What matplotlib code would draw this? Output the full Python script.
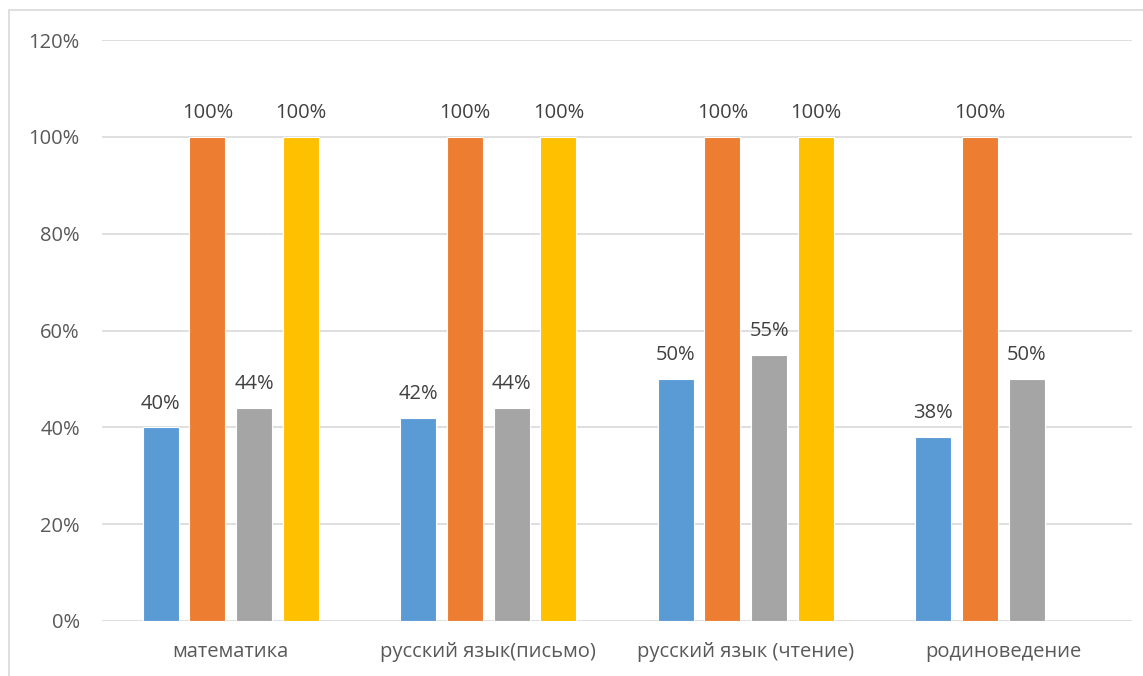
import numpy as np
import matplotlib.pyplot as plt
from matplotlib.patches import Rectangle

plt.rcParams['font.family'] = ['Open Sans', 'DejaVu Sans']

categories = ["математика", "русский язык(письмо)", "русский язык (чтение)", "родиноведение"]
s1 = [0.40, 0.42, 0.50, 0.38]
s2 = [1.00, 1.00, 1.00, 1.00]
s3 = [0.44, 0.44, 0.55, 0.50]
s4 = [1.00, 1.00, 1.00, np.nan]
series = [s1, s2, s3, s4]
colors = ["#5b9bd5", "#ed7d31", "#a5a5a5", "#ffc000"]
yticks = [0, 0.2, 0.4, 0.6, 0.8, 1.0, 1.2]

fig = plt.figure(figsize=(11.43, 6.76), dpi=100)
ax = fig.add_axes([102/1143, 1-621/676, 1030/1143, 581/676])

# рамка диаграммы
fig.patches.append(Rectangle((9/1143, -0.1), 1.2, 1-10/676+0.1, transform=fig.transFigure,
                             fill=False, edgecolor="#d9d9d9", linewidth=1.2))

x = np.arange(len(categories))
w = 0.14
step = 0.1815
for i, (vals, c) in enumerate(zip(series, colors)):
    pos = x + (i - 1.5) * step
    ax.bar(pos, vals, width=w, color=c, edgecolor="white", linewidth=0.8, zorder=3)
    for p, v in zip(pos, vals):
        if np.isnan(v):
            continue
        ax.text(p, v + 0.028, f"{v*100:.0f}%", ha="center", va="bottom",
                fontsize=14.5, color="#404040")

ax.set_xlim(-0.5, len(categories) - 0.5)
ax.set_ylim(0, 1.2)
ax.set_yticks(yticks)
ax.set_yticklabels([f"{t*100:.0f}%" for t in yticks])
ax.set_xticks(x)
ax.set_xticklabels(categories)
ax.grid(axis="y", color="#d9d9d9", linewidth=1.2, zorder=0)
for s in ax.spines.values():
    s.set_visible(False)
ax.tick_params(length=0, labelsize=14.5, colors="#595959")
ax.tick_params(axis="y", pad=16)
ax.tick_params(axis="x", pad=15)

fig.savefig("out.png", dpi=100)
